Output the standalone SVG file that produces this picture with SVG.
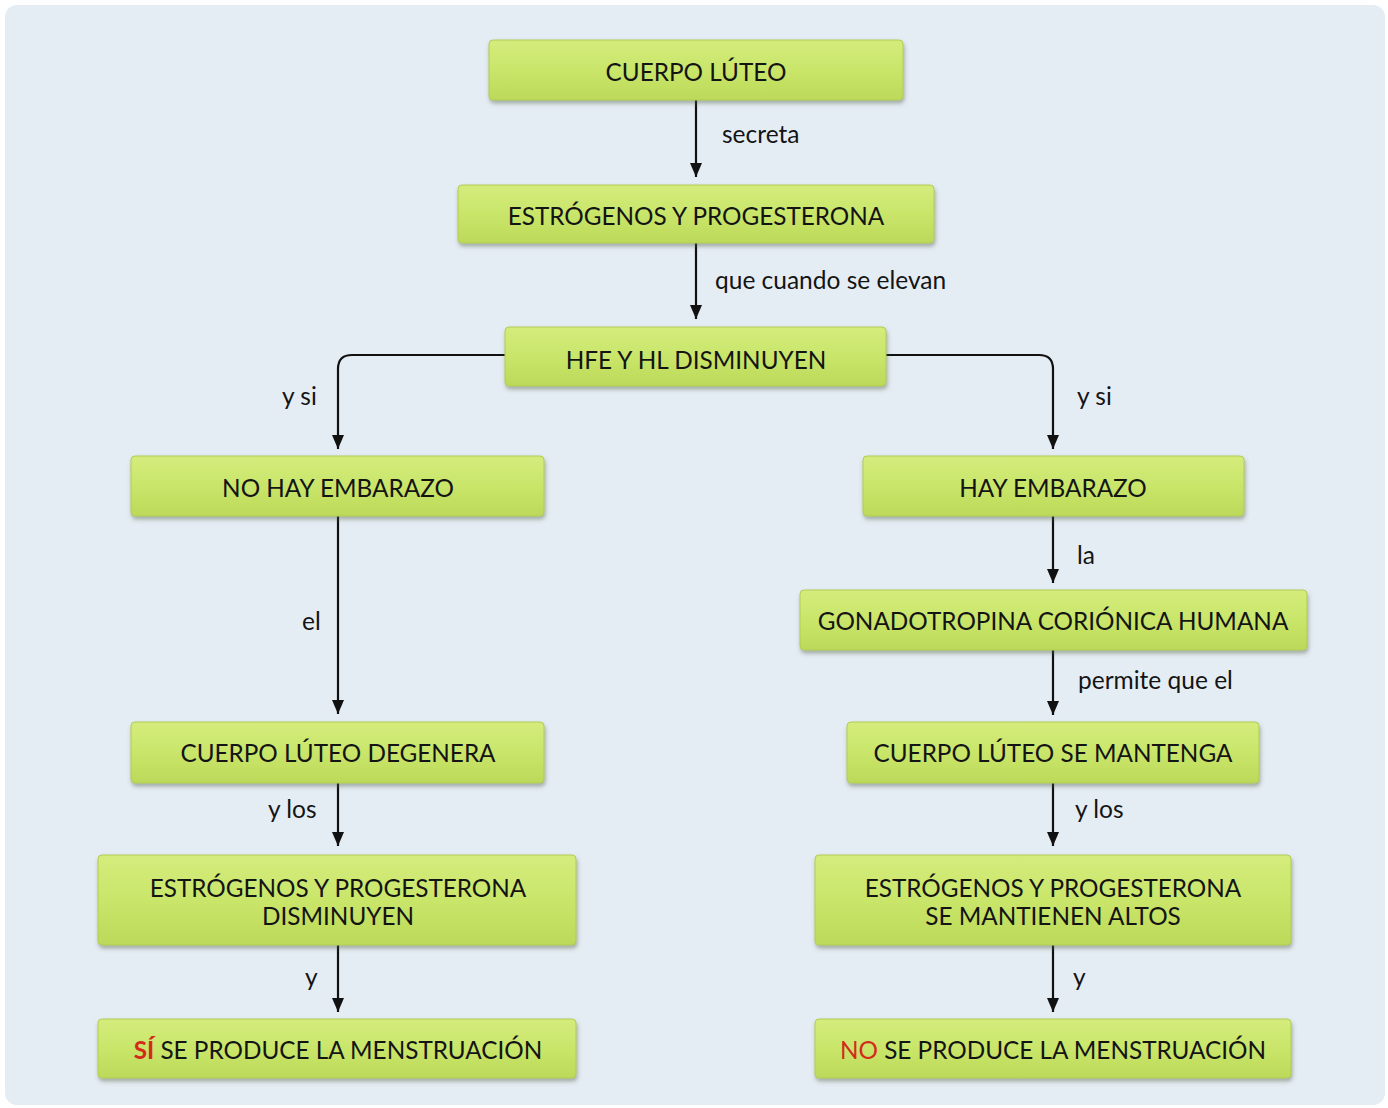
<svg xmlns="http://www.w3.org/2000/svg" width="1388" height="1108" viewBox="0 0 1388 1108">
<defs>
<linearGradient id="g" x1="0" y1="0" x2="0" y2="1">
<stop offset="0" stop-color="#d5ec7c"/>
<stop offset="0.5" stop-color="#c9e66a"/>
<stop offset="1" stop-color="#bcd95a"/>
</linearGradient>
<filter id="sh" x="-5%" y="-20%" width="110%" height="150%">
<feDropShadow dx="1" dy="3" stdDeviation="2" flood-color="#4a5a40" flood-opacity="0.45"/>
</filter>
<marker id="ah" markerWidth="14" markerHeight="12" refX="14" refY="6" orient="auto" markerUnits="userSpaceOnUse">
<path d="M0,0 L14,6 L0,12 Z" fill="#111"/>
</marker>
</defs>
<style>
.n{fill:url(#g);stroke:#b2cc55;stroke-width:1;filter:url(#sh)}
.t{font-family:Lato,"Noto Sans",sans-serif;font-size:24.3px;fill:#141414;text-anchor:middle}
.l{font-family:Lato,"Noto Sans",sans-serif;font-size:24.5px;fill:#141414}
.c{fill:none;stroke:#111;stroke-width:2.2;marker-end:url(#ah)}
.r{fill:#d42a1c}
</style>
<rect x="0" y="0" width="1388" height="1108" fill="#ffffff"/>
<rect x="5" y="5" width="1380" height="1100" rx="12" fill="#e5edf4"/>

<g id="connectors">
<path class="c" d="M696,100 V177"/>
<path class="c" d="M696,243 V319"/>
<path class="c" d="M505,355 H352 Q338,355 338,369 V449"/>
<path class="c" d="M886,355 H1039 Q1053,355 1053,369 V449"/>
<path class="c" d="M338,516 V714"/>
<path class="c" d="M338,783 V846"/>
<path class="c" d="M338,945 V1012"/>
<path class="c" d="M1053,516 V583"/>
<path class="c" d="M1053,650 V715"/>
<path class="c" d="M1053,783 V846"/>
<path class="c" d="M1053,945 V1012"/>
<text class="l" x="722" y="143">secreta</text>
<text class="l" x="715" y="289">que cuando se elevan</text>
<text class="l" x="282" y="405">y si</text>
<text class="l" x="1077" y="405">y si</text>
<text class="l" x="302" y="630">el</text>
<text class="l" x="268" y="818">y los</text>
<text class="l" x="305" y="986">y</text>
<text class="l" x="1077" y="564">la</text>
<text class="l" x="1078" y="689">permite que el</text>
<text class="l" x="1075" y="818">y los</text>
<text class="l" x="1073" y="986">y</text>
</g>

<g id="n1"><rect class="n" x="489" y="40" width="414" height="60" rx="4"/><text class="t" x="696" y="81">CUERPO LÚTEO</text></g>
<g id="n2"><rect class="n" x="458" y="185" width="476" height="58" rx="4"/><text class="t" x="696" y="225">ESTRÓGENOS Y PROGESTERONA</text></g>
<g id="n3"><rect class="n" x="505" y="327" width="381" height="59" rx="4"/><text class="t" x="696" y="369">HFE Y HL DISMINUYEN</text></g>
<g id="n4"><rect class="n" x="131" y="456" width="413" height="60" rx="4"/><text class="t" x="338" y="497">NO HAY EMBARAZO</text></g>
<g id="n5"><rect class="n" x="863" y="456" width="381" height="60" rx="4"/><text class="t" x="1053" y="497">HAY EMBARAZO</text></g>
<g id="n6"><rect class="n" x="800" y="590" width="507" height="60" rx="4"/><text class="t" x="1053" y="630">GONADOTROPINA CORIÓNICA HUMANA</text></g>
<g id="n7"><rect class="n" x="131" y="722" width="413" height="61" rx="4"/><text class="t" x="338" y="762">CUERPO LÚTEO DEGENERA</text></g>
<g id="n8"><rect class="n" x="847" y="722" width="412" height="61" rx="4"/><text class="t" x="1053" y="762">CUERPO LÚTEO SE MANTENGA</text></g>
<g id="n9"><rect class="n" x="98" y="855" width="478" height="90" rx="4"/><text class="t" x="338" y="897">ESTRÓGENOS Y PROGESTERONA</text><text class="t" x="338" y="925">DISMINUYEN</text></g>
<g id="n10"><rect class="n" x="815" y="855" width="476" height="90" rx="4"/><text class="t" x="1053" y="897">ESTRÓGENOS Y PROGESTERONA</text><text class="t" x="1053" y="925">SE MANTIENEN ALTOS</text></g>
<g id="n11"><rect class="n" x="98" y="1019" width="478" height="59" rx="4"/><text class="t" x="338" y="1059"><tspan class="r" font-weight="bold">SÍ</tspan> SE PRODUCE LA MENSTRUACIÓN</text></g>
<g id="n12"><rect class="n" x="815" y="1019" width="476" height="59" rx="4"/><text class="t" x="1053" y="1059"><tspan class="r">NO</tspan> SE PRODUCE LA MENSTRUACIÓN</text></g>
</svg>
